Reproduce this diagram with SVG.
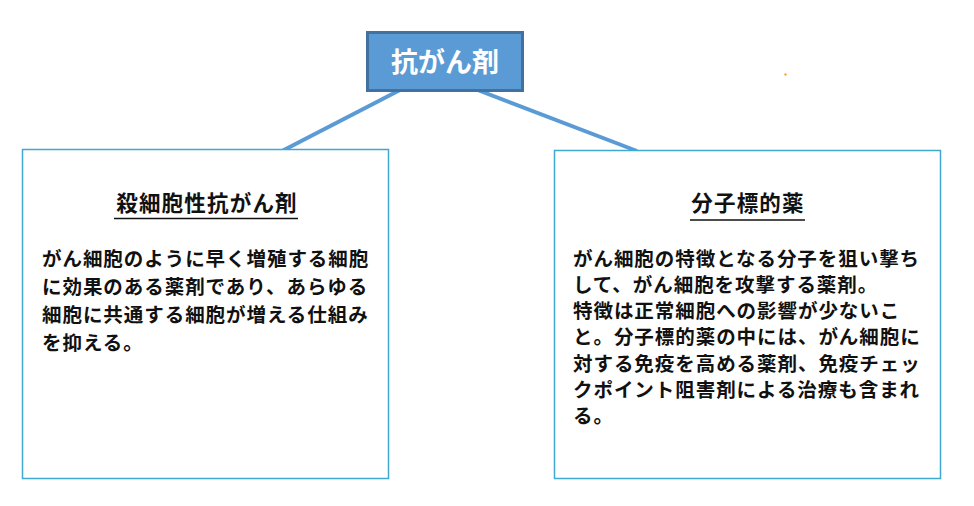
<svg xmlns="http://www.w3.org/2000/svg" width="974" height="506" viewBox="0 0 974 506">
<style>
  .box { fill: #ffffff; stroke: #3FA9D1; stroke-width: 1.5; }
  .conn { stroke: #5B9BD5; stroke-width: 4; fill: none; }
  .jp { font-family: "Noto Sans CJK JP", "Noto Sans CJK SC", sans-serif; fill: #111111; }
  .title { font-size: 21.5px; font-weight: bold; letter-spacing: 1.2px; text-anchor: middle; }
  .body { font-size: 19.5px; font-weight: bold; letter-spacing: 0.95px; }
  .ul { stroke: #111111; stroke-width: 1.5; }
</style>
<rect width="974" height="506" fill="#ffffff"/>
<g id="connectors">
  <line class="conn" x1="400" y1="90" x2="282" y2="151"/>
  <line class="conn" x1="475" y1="89" x2="637" y2="151"/>
</g>
<g id="root">
  <rect x="367.5" y="32.5" width="155" height="58" fill="#5B9BD5" stroke="#41719C" stroke-width="3"/>
  <text x="445" y="72" font-family="Noto Sans CJK JP, sans-serif" font-size="27" font-weight="bold" fill="#ffffff" text-anchor="middle">抗がん剤</text>
</g>
<g id="cytotoxic">
  <rect class="box" x="22.5" y="149.5" width="366" height="329"/>
  <text class="jp title" x="207" y="211">殺細胞性抗がん剤</text>
  <line class="ul" x1="114" y1="218.5" x2="298" y2="218.5"/>
  <text class="jp body" x="42">
    <tspan x="42" y="266">がん細胞のように早く増殖する細胞</tspan>
    <tspan x="42" y="294">に効果のある薬剤であり、あらゆる</tspan>
    <tspan x="42" y="322">細胞に共通する細胞が増える仕組み</tspan>
    <tspan x="42" y="350">を抑える。</tspan>
  </text>
</g>
<g id="targeted">
  <rect class="box" x="554.5" y="150.5" width="386" height="328"/>
  <text class="jp title" x="748" y="211">分子標的薬</text>
  <line class="ul" x1="690" y1="220" x2="805" y2="220"/>
  <text class="jp body" x="573">
    <tspan x="573" y="266">がん細胞の特徴となる分子を狙い撃ち</tspan>
    <tspan x="573" y="292">して、がん細胞を攻撃する薬剤。</tspan>
    <tspan x="573" y="318">特徴は正常細胞への影響が少ないこ</tspan>
    <tspan x="573" y="344">と。分子標的薬の中には、がん細胞に</tspan>
    <tspan x="573" y="371">対する免疫を高める薬剤、免疫チェッ</tspan>
    <tspan x="573" y="397">クポイント阻害剤による治療も含まれ</tspan>
    <tspan x="573" y="423">る。</tspan>
  </text>
</g>
<circle cx="785.5" cy="74.5" r="1.2" fill="#F2A93B"/>
</svg>
